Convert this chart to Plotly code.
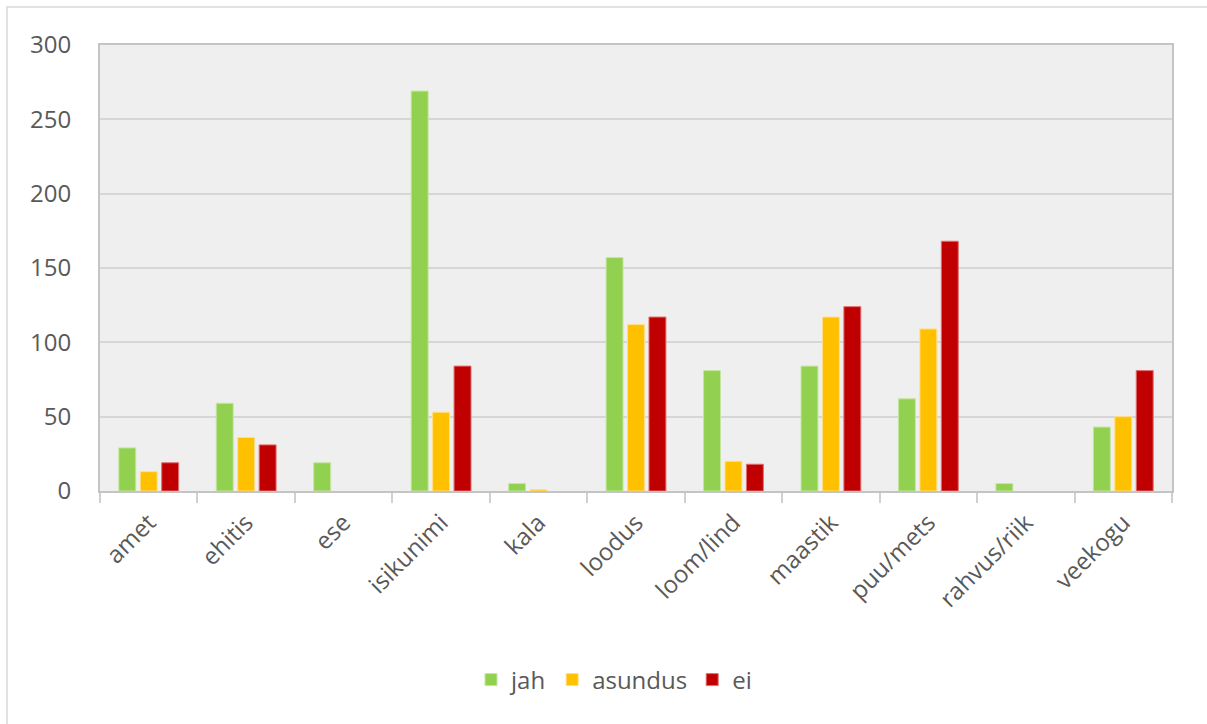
import plotly.graph_objects as go

categories = ["amet", "ehitis", "ese", "isikunimi", "kala", "loodus", "loom/lind",
              "maastik", "puu/mets", "rahvus/riik", "veekogu"]
jah = [29, 59, 19, 269, 5, 157, 81, 84, 62, 5, 43]
asundus = [13, 36, 0, 53, 1, 112, 20, 117, 109, 0, 50]
ei = [19, 31, 0, 84, 0, 117, 18, 124, 168, 0, 81]
y_ticks = [0, 50, 100, 150, 200, 250, 300]

series = [("jah", jah, "#92D050", "#c5e6a0"),
          ("asundus", asundus, "#FFC000", "#ffe08a"),
          ("ei", ei, "#C00000", "#e07070")]

fig = go.Figure()
for name, vals, col, lc in series:
    fig.add_trace(go.Bar(x=categories, y=vals, name=name,
                         marker=dict(color=col,
                                     line=dict(color=lc, width=[1 if v > 0 else 0 for v in vals]))))

font_family = "Open Sans, Liberation Sans, sans-serif"
L, R, T, B = 100, 35, 45, 233
W, H = 1207, 724
pw, ph = W - L - R, H - T - B

fig.update_layout(
    width=W, height=H,
    margin=dict(l=L, r=R, t=T, b=B),
    paper_bgcolor="white",
    plot_bgcolor="#efefef",
    barmode="group",
    bargap=0.34,
    bargroupgap=0.21,
    font=dict(family=font_family, color="#595959", size=24),
    legend=dict(orientation="h", x=(614 - L) / pw, xanchor="center",
                y=(T + ph - 680) / ph, yanchor="middle",
                font=dict(size=24, color="#595959"),
                itemwidth=30, traceorder="normal"),
    xaxis=dict(tickangle=-45, tickfont=dict(size=24, color="#595959"),
               showline=True, linecolor="#c4c4c4", linewidth=2, mirror=True,
               ticks="outside", tickson="boundaries", ticklen=10,
               tickcolor="#d0d0d0", tickwidth=2, showgrid=False,
               ticklabelstandoff=6),
    yaxis=dict(range=[0, 300], tickvals=y_ticks, tickfont=dict(size=24, color="#595959"),
               showgrid=True, gridcolor="#d6d6d6", gridwidth=2,
               showline=True, linecolor="#c4c4c4", linewidth=2, mirror=True,
               ticks="", ticklabelstandoff=22, zeroline=False),
    shapes=[dict(type="rect", xref="paper", yref="paper",
                 x0=(7 - L) / pw, x1=(1220 - L) / pw,
                 y0=(T + ph - 740) / ph, y1=(T + ph - 7) / ph,
                 line=dict(color="#d9d9d9", width=1.5), fillcolor="rgba(0,0,0,0)",
                 layer="below")],
)

fig.write_html("out.html", config={"displayModeBar": False},
               post_script="document.body.style.margin='0';document.body.style.overflow='hidden';")
